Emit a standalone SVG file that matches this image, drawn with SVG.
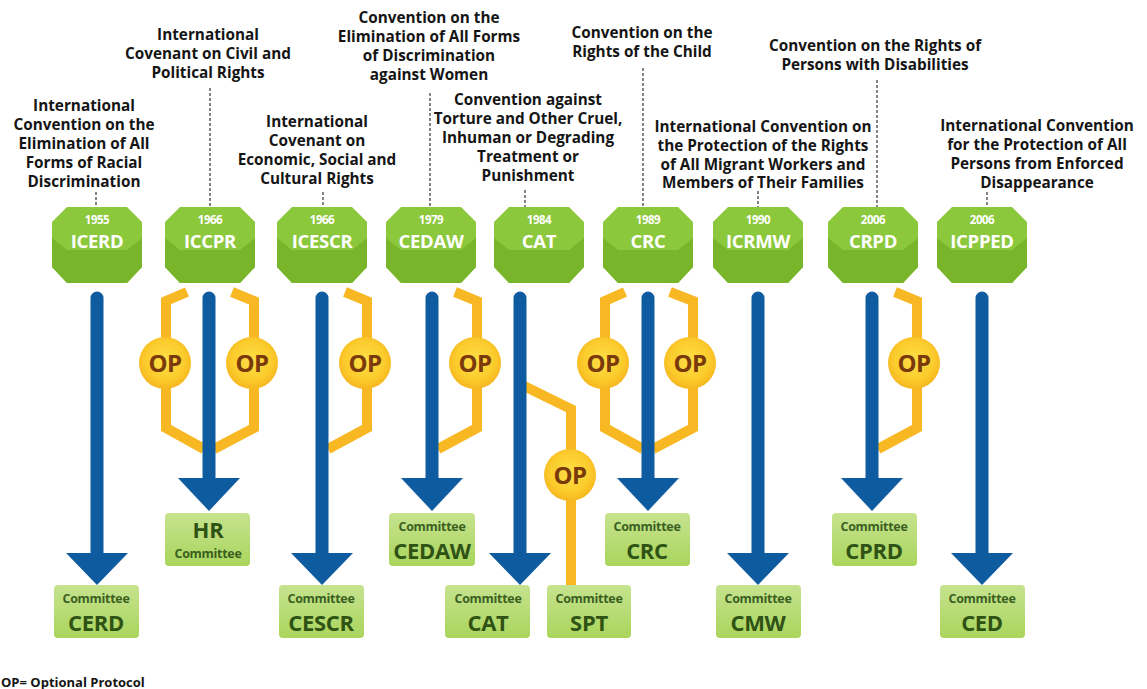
<svg xmlns="http://www.w3.org/2000/svg" width="1147" height="689" viewBox="0 0 1147 689">
  <style>
    .lbl { font-family: "Open Sans", "Liberation Sans", sans-serif; font-weight: 700; font-size: 15.3px; fill: #151515; text-anchor: middle; }
    .lead { stroke: #333; stroke-width: 1.2; stroke-dasharray: 3 2; fill: none; }
    .oct-top { fill: #8cc83c; }
    .oct-low { fill: #79b52b; }
    .yr { font-family: "Open Sans", "Liberation Sans", sans-serif; font-weight: 700; font-size: 11.5px; fill: #ffffff; text-anchor: middle; letter-spacing: -0.5px; }
    .nm { font-family: "Open Sans", "Liberation Sans", sans-serif; font-weight: 700; font-size: 18.5px; fill: #ffffff; text-anchor: middle; letter-spacing: -0.3px; }
    .box { fill: url(#boxFill); }
    .cm { font-family: "Open Sans", "Liberation Sans", sans-serif; font-weight: 700; font-size: 12.5px; fill: #3a5f1f; text-anchor: middle; letter-spacing: -0.3px; }
    .cn { font-family: "Open Sans", "Liberation Sans", sans-serif; font-weight: 700; font-size: 22px; fill: #2f5215; text-anchor: middle; letter-spacing: -0.3px; }
    .op-line { fill: none; stroke: #f7b823; stroke-width: 10; stroke-linejoin: miter; }
    .op-dot { fill: url(#opFill); }
    .op-txt { font-family: "Open Sans", "Liberation Sans", sans-serif; font-weight: 700; font-size: 24px; fill: #7a3a0c; text-anchor: middle; letter-spacing: -0.5px; }
    .shaft { stroke: #0f5b9f; stroke-width: 13; stroke-linecap: round; }
    .head { fill: #0f5b9f; }
    .legend { font-family: "Open Sans", "Liberation Sans", sans-serif; font-weight: 700; font-size: 13px; fill: #151515; }
  </style>
  <defs>
    <linearGradient id="boxFill" x1="0" y1="0" x2="0" y2="1">
      <stop offset="0" stop-color="#c6e38f"/>
      <stop offset="1" stop-color="#a9d55c"/>
    </linearGradient>
    <radialGradient id="opFill" cx="0.5" cy="0.45" r="0.55">
      <stop offset="0" stop-color="#fde047"/>
      <stop offset="0.7" stop-color="#fbcb2c"/>
      <stop offset="1" stop-color="#f6b61f"/>
    </radialGradient>
    <g id="octagon">
      <polygon class="oct-top" points="-30,0 30,0 45,15 45,60 30,76 -30,76 -45,60 -45,15"/>
      <polygon class="oct-low" points="-45,31 -30,43 30,43 45,31 45,60 30,76 -30,76 -45,60"/>
    </g>
  </defs>

  <rect width="1147" height="689" fill="#ffffff"/>

  <!-- convention titles with dashed leaders -->
  <g id="labels">
    <text class="lbl"><tspan x="84" y="111">International</tspan><tspan x="84" y="130">Convention on the</tspan><tspan x="84" y="149">Elimination of All</tspan><tspan x="84" y="168">Forms of Racial</tspan><tspan x="84" y="187">Discrimination</tspan></text>
    <line class="lead" x1="96" y1="192" x2="96" y2="207"/>

    <text class="lbl"><tspan x="208" y="40">International</tspan><tspan x="208" y="59">Covenant on Civil and</tspan><tspan x="208" y="78">Political Rights</tspan></text>
    <line class="lead" x1="210" y1="88" x2="210" y2="207"/>

    <text class="lbl"><tspan x="317" y="127">International</tspan><tspan x="317" y="146">Covenant on</tspan><tspan x="317" y="165">Economic, Social and</tspan><tspan x="317" y="184">Cultural Rights</tspan></text>
    <line class="lead" x1="323" y1="192" x2="323" y2="207"/>

    <text class="lbl"><tspan x="429" y="23">Convention on the</tspan><tspan x="429" y="42">Elimination of All Forms</tspan><tspan x="429" y="61">of Discrimination</tspan><tspan x="429" y="80">against Women</tspan></text>
    <line class="lead" x1="430" y1="93" x2="430" y2="207"/>

    <text class="lbl"><tspan x="528" y="105">Convention against</tspan><tspan x="528" y="124">Torture  and Other Cruel,</tspan><tspan x="528" y="143">Inhuman or Degrading</tspan><tspan x="528" y="162">Treatment or</tspan><tspan x="528" y="181">Punishment</tspan></text>
    <line class="lead" x1="525" y1="190" x2="525" y2="207"/>

    <text class="lbl"><tspan x="642" y="38">Convention on the</tspan><tspan x="642" y="57">Rights of the Child</tspan></text>
    <line class="lead" x1="643" y1="68" x2="643" y2="207"/>

    <text class="lbl"><tspan x="763" y="132">International Convention on</tspan><tspan x="763" y="151">the Protection of the Rights</tspan><tspan x="763" y="170">of All Migrant Workers and</tspan><tspan x="763" y="188">Members of Their Families</tspan></text>
    <line class="lead" x1="758" y1="191" x2="758" y2="207"/>

    <text class="lbl"><tspan x="875" y="51">Convention on the Rights of</tspan><tspan x="875" y="70">Persons with Disabilities</tspan></text>
    <line class="lead" x1="877" y1="80" x2="877" y2="207"/>

    <text class="lbl"><tspan x="1037" y="131">International Convention</tspan><tspan x="1037" y="150">for the Protection of All</tspan><tspan x="1037" y="169">Persons from Enforced</tspan><tspan x="1037" y="188">Disappearance</tspan></text>
    <line class="lead" x1="987" y1="192" x2="987" y2="207"/>
  </g>

  <!-- optional protocol branches, monitoring arrows -->
  <g id="connectors">
    <path class="op-line" d="M187,292 L166,301 L166,428 L204,449"/>
    <path class="op-line" d="M232,292 L254,301 L254,428 L214,449"/>
    <path class="op-line" d="M345,292 L367,301 L367,428 L328,449"/>
    <path class="op-line" d="M455,292 L477,301 L477,428 L438,449"/>
    <path class="op-line" d="M522,385 L571,409 L571,585"/>
    <path class="op-line" d="M625,292 L605,301 L605,428 L643,449"/>
    <path class="op-line" d="M670,292 L693,301 L693,428 L653,449"/>
    <path class="op-line" d="M895,292 L917,301 L917,428 L878,449"/>

    <line class="shaft" x1="97" y1="298" x2="97" y2="556"/>
    <polygon class="head" points="66,553 128,553 97,585"/>
    <line class="shaft" x1="209" y1="298" x2="209" y2="481"/>
    <polygon class="head" points="178,478 240,478 209,511"/>
    <line class="shaft" x1="322" y1="298" x2="322" y2="556"/>
    <polygon class="head" points="291,553 353,553 322,585"/>
    <line class="shaft" x1="432" y1="298" x2="432" y2="481"/>
    <polygon class="head" points="401,478 463,478 432,511"/>
    <line class="shaft" x1="520" y1="298" x2="520" y2="556"/>
    <polygon class="head" points="489,553 551,553 520,585"/>
    <line class="shaft" x1="648" y1="298" x2="648" y2="481"/>
    <polygon class="head" points="617,478 679,478 648,511"/>
    <line class="shaft" x1="758" y1="298" x2="758" y2="556"/>
    <polygon class="head" points="727,553 789,553 758,585"/>
    <line class="shaft" x1="872" y1="298" x2="872" y2="481"/>
    <polygon class="head" points="841,478 903,478 872,511"/>
    <line class="shaft" x1="982" y1="298" x2="982" y2="556"/>
    <polygon class="head" points="951,553 1013,553 982,585"/>
  </g>

  <!-- optional protocol badges -->
  <g id="op-iccpr-1"><circle class="op-dot" cx="165" cy="363" r="26"/><text class="op-txt" x="165" y="372">OP</text></g>
  <g id="op-iccpr-2"><circle class="op-dot" cx="252" cy="363" r="26"/><text class="op-txt" x="252" y="372">OP</text></g>
  <g id="op-icescr"><circle class="op-dot" cx="365" cy="363" r="26"/><text class="op-txt" x="365" y="372">OP</text></g>
  <g id="op-cedaw"><circle class="op-dot" cx="475" cy="363" r="26"/><text class="op-txt" x="475" y="372">OP</text></g>
  <g id="op-cat"><circle class="op-dot" cx="570" cy="475" r="26"/><text class="op-txt" x="570" y="484">OP</text></g>
  <g id="op-crc-1"><circle class="op-dot" cx="603" cy="363" r="26"/><text class="op-txt" x="603" y="372">OP</text></g>
  <g id="op-crc-2"><circle class="op-dot" cx="690" cy="363" r="26"/><text class="op-txt" x="690" y="372">OP</text></g>
  <g id="op-crpd"><circle class="op-dot" cx="914" cy="363" r="26"/><text class="op-txt" x="914" y="372">OP</text></g>

  <!-- treaty octagons -->
  <g id="t-icerd"><use href="#octagon" x="97" y="207"/><text class="yr" x="97" y="224">1955</text><text class="nm" x="97" y="248">ICERD</text></g>
  <g id="t-iccpr"><use href="#octagon" x="210" y="207"/><text class="yr" x="210" y="224">1966</text><text class="nm" x="210" y="248">ICCPR</text></g>
  <g id="t-icescr"><use href="#octagon" x="322" y="207"/><text class="yr" x="322" y="224">1966</text><text class="nm" x="322" y="248">ICESCR</text></g>
  <g id="t-cedaw"><use href="#octagon" x="431" y="207"/><text class="yr" x="431" y="224">1979</text><text class="nm" x="431" y="248">CEDAW</text></g>
  <g id="t-cat"><use href="#octagon" x="539" y="207"/><text class="yr" x="539" y="224">1984</text><text class="nm" x="539" y="248">CAT</text></g>
  <g id="t-crc"><use href="#octagon" x="648" y="207"/><text class="yr" x="648" y="224">1989</text><text class="nm" x="648" y="248">CRC</text></g>
  <g id="t-icrmw"><use href="#octagon" x="758" y="207"/><text class="yr" x="758" y="224">1990</text><text class="nm" x="758" y="248">ICRMW</text></g>
  <g id="t-crpd"><use href="#octagon" x="873" y="207"/><text class="yr" x="873" y="224">2006</text><text class="nm" x="873" y="248">CRPD</text></g>
  <g id="t-icpped"><use href="#octagon" x="982" y="207"/><text class="yr" x="982" y="224">2006</text><text class="nm" x="982" y="248">ICPPED</text></g>

  <!-- treaty bodies -->
  <g id="c-cerd"><rect class="box" x="54" y="585" width="85" height="53" rx="4"/><text class="cm" x="96" y="603">Committee</text><text class="cn" x="96" y="630.5">CERD</text></g>
  <g id="c-hr"><rect class="box" x="165" y="513" width="85" height="53" rx="4"/><text class="cn" x="208" y="538">HR</text><text class="cm" x="208" y="558">Committee</text></g>
  <g id="c-cescr"><rect class="box" x="279" y="585" width="85" height="53" rx="4"/><text class="cm" x="321" y="603">Committee</text><text class="cn" x="321" y="630.5">CESCR</text></g>
  <g id="c-cedaw"><rect class="box" x="389" y="513" width="86" height="53" rx="4"/><text class="cm" x="432" y="531">Committee</text><text class="cn" x="432" y="558.5">CEDAW</text></g>
  <g id="c-cat"><rect class="box" x="445" y="585" width="85" height="53" rx="4"/><text class="cm" x="488" y="603">Committee</text><text class="cn" x="488" y="630.5">CAT</text></g>
  <g id="c-spt"><rect class="box" x="547" y="585" width="84" height="53" rx="4"/><text class="cm" x="589" y="603">Committee</text><text class="cn" x="589" y="630.5">SPT</text></g>
  <g id="c-crc"><rect class="box" x="605" y="513" width="85" height="53" rx="4"/><text class="cm" x="647" y="531">Committee</text><text class="cn" x="647" y="558.5">CRC</text></g>
  <g id="c-cmw"><rect class="box" x="716" y="585" width="85" height="53" rx="4"/><text class="cm" x="758" y="603">Committee</text><text class="cn" x="758" y="630.5">CMW</text></g>
  <g id="c-cprd"><rect class="box" x="832" y="513" width="85" height="53" rx="4"/><text class="cm" x="874" y="531">Committee</text><text class="cn" x="874" y="558.5">CPRD</text></g>
  <g id="c-ced"><rect class="box" x="940" y="585" width="85" height="53" rx="4"/><text class="cm" x="982" y="603">Committee</text><text class="cn" x="982" y="630.5">CED</text></g>

  <text class="legend" x="1" y="687">OP= Optional Protocol</text>
</svg>
